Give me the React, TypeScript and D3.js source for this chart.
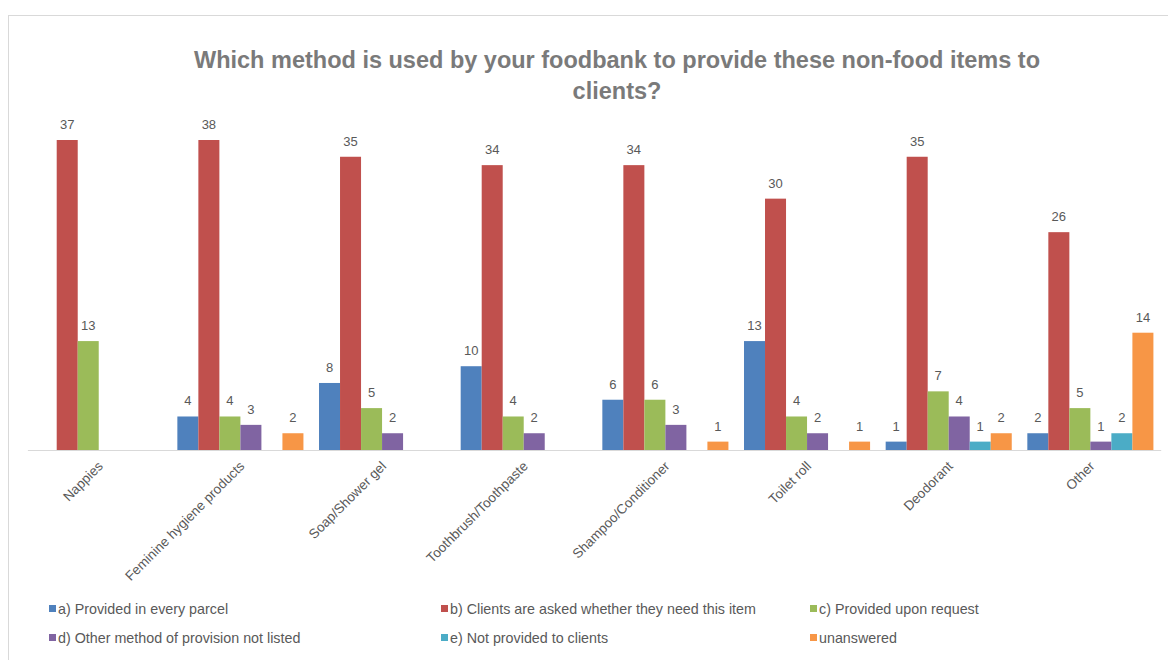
import React from "react";
import * as d3 from "d3";

const categories = [
  "Nappies",
  "Feminine hygiene products",
  "Soap/Shower gel",
  "Toothbrush/Toothpaste",
  "Shampoo/Conditioner",
  "Toilet roll",
  "Deodorant",
  "Other",
];

const seriesNames = [
  "a) Provided in every parcel",
  "b) Clients are asked whether they need this item",
  "c) Provided upon request",
  "d) Other method of provision not listed",
  "e) Not provided to clients",
  "unanswered",
];

const seriesColors = ["#4f81bd", "#c0504d", "#9bbb59", "#8064a2", "#4bacc6", "#f79646"];

const providedInEveryParcel: (number | null)[] = [null, 4, 8, 10, 6, 13, 1, 2];
const clientsAsked: (number | null)[] = [37, 38, 35, 34, 34, 30, 35, 26];
const providedUponRequest: (number | null)[] = [13, 4, 5, 4, 6, 4, 7, 5];
const otherMethod: (number | null)[] = [null, 3, 2, 2, 3, 2, 4, 1];
const notProvided: (number | null)[] = [null, null, null, null, null, null, 1, 2];
const unanswered: (number | null)[] = [null, 2, null, null, 1, 1, 2, 14];

const seriesValues = [
  providedInEveryParcel,
  clientsAsked,
  providedUponRequest,
  otherMethod,
  notProvided,
  unanswered,
];

const titleLines = [
  "Which method is used by your foodbank to provide these non-food items to",
  "clients?",
];

const W = 1168;
const H = 660;
const plotLeft = 27.9;
const plotRight = 1161.2;
const baseY = 450;
const topY = 140;

export default function App() {
  const x0 = d3
    .scaleBand<string>()
    .domain(categories)
    .range([plotLeft, plotRight])
    .paddingInner(0.11)
    .paddingOuter(0.055);
  const x1 = d3
    .scaleBand<number>()
    .domain(d3.range(seriesNames.length))
    .range([0, x0.bandwidth()]);
  const y = d3.scaleLinear().domain([0, 37]).range([baseY, topY]).clamp(true);

  const textColor = "#595959";
  const font = "'Liberation Sans', Arial, sans-serif";

  const legendCols = [49, 441, 810];
  const legendRows = [609, 638];

  return (
    <svg
      width={W}
      height={H}
      style={{ position: "absolute", left: 0, top: 0, background: "#fff" }}
      fontFamily={font}
    >
      <rect x={0} y={0} width={W} height={H} fill="#fff" />
      <line x1={8} y1={15.5} x2={W} y2={15.5} stroke="#d9d9d9" strokeWidth={1} />
      <line x1={8.5} y1={15} x2={8.5} y2={H} stroke="#d9d9d9" strokeWidth={1} />

      {titleLines.map((t, i) => (
        <text
          key={i}
          x={617}
          y={68 + i * 31}
          textAnchor="middle"
          fontSize={23.5}
          fontWeight="bold"
          fill="#7a7a7a"
        >
          {t}
        </text>
      ))}

      <line x1={plotLeft} x2={plotRight} y1={baseY + 0.5} y2={baseY + 0.5} stroke="#d9d9d9" />

      {categories.map((c, ci) => (
        <g key={c} transform={`translate(${x0(c)},0)`}>
          {seriesValues.map((vals, si) => {
            const v = vals[ci];
            if (v === null || v === undefined) return null;
            const bx = x1(si)!;
            const bw = x1.bandwidth();
            const top = y(v);
            return (
              <g key={si}>
                <rect x={bx} y={top} width={bw} height={baseY - top} fill={seriesColors[si]} />
                <text
                  x={bx + bw / 2}
                  y={top - 11}
                  textAnchor="middle"
                  fontSize={13}
                  fill={textColor}
                >
                  {v}
                </text>
              </g>
            );
          })}
        </g>
      ))}

      {categories.map((c) => {
        const cx = x0(c)! + x0.bandwidth() / 2 + 5;
        const cy = 467;
        return (
          <text
            key={c}
            transform={`translate(${cx},${cy}) rotate(-45)`}
            textAnchor="end"
            fontSize={13.5}
            fill={textColor}
          >
            {c}
          </text>
        );
      })}

      {seriesNames.map((s, i) => {
        const col = i % 3;
        const row = Math.floor(i / 3);
        const lx = legendCols[col];
        const ly = legendRows[row];
        return (
          <g key={s}>
            <rect x={lx} y={ly - 4} width={7} height={7} fill={seriesColors[i]} />
            <text x={lx + 9} y={ly + 5} fontSize={14.3} fill={textColor}>
              {s}
            </text>
          </g>
        );
      })}
    </svg>
  );
}
